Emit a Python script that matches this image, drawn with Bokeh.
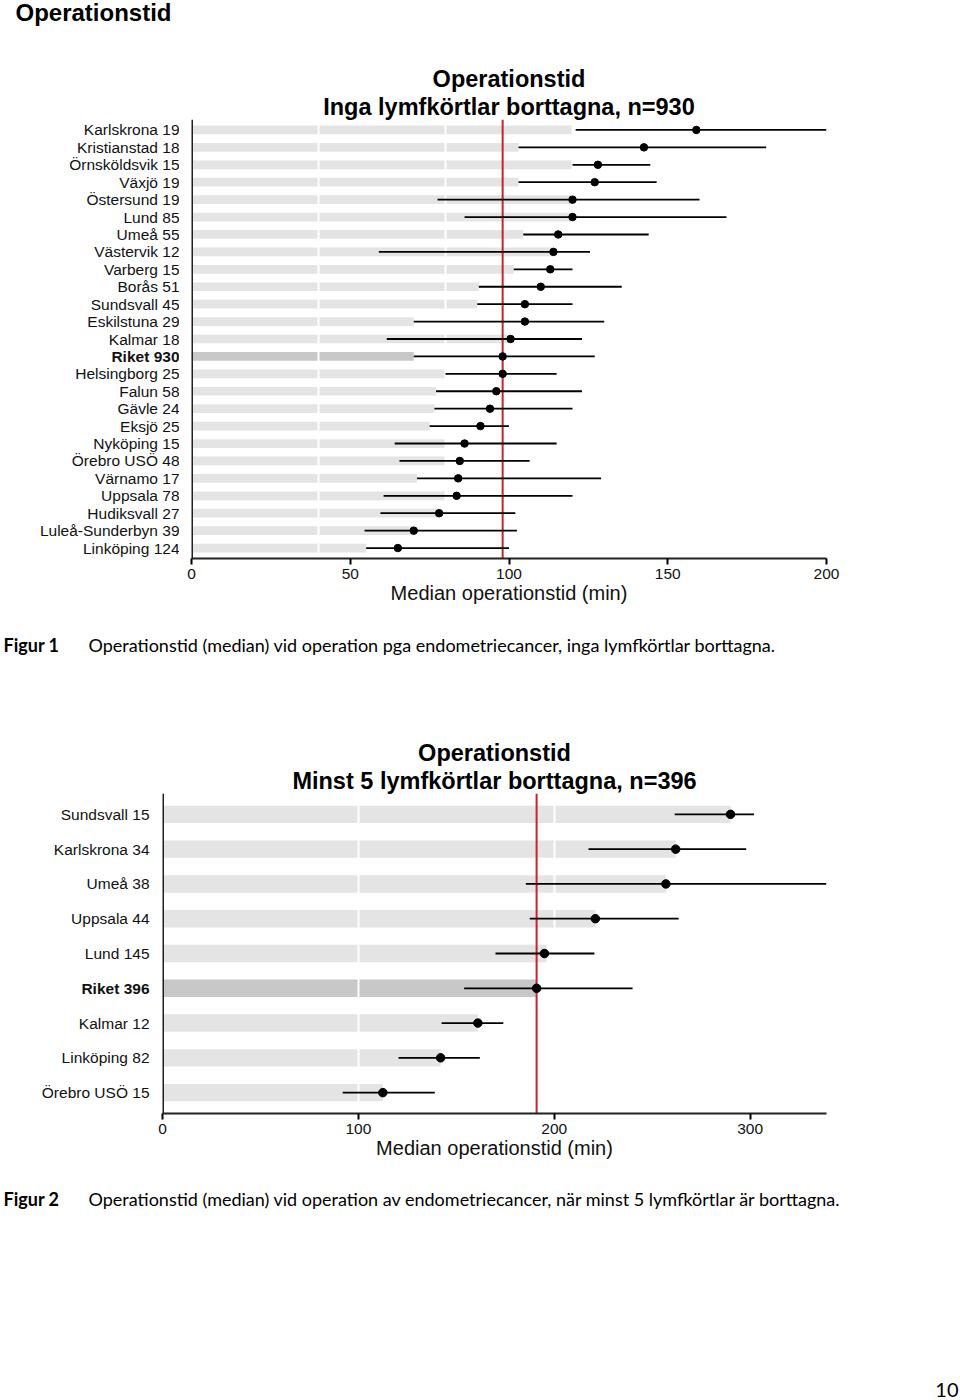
from bokeh.plotting import figure
from bokeh.models import (ColumnDataSource, FactorRange, Range1d, Span, Title,
                          FixedTicker)
from bokeh.layouts import row
from bokeh.embed import file_html
from bokeh.resources import INLINE
from bokeh.core.properties import value

# ---------------- data: Figur 1 (inga lymfkörtlar borttagna) ----------------
names1 = ["Karlskrona 19", "Kristianstad 18", "Örnsköldsvik 15", "Växjö 19",
          "Östersund 19", "Lund 85", "Umeå 55", "Västervik 12", "Varberg 15",
          "Borås 51", "Sundsvall 45", "Eskilstuna 29", "Kalmar 18", "Riket 930",
          "Helsingborg 25", "Falun 58", "Gävle 24", "Eksjö 25", "Nyköping 15",
          "Örebro USÖ 48", "Värnamo 17", "Uppsala 78", "Hudiksvall 27",
          "Luleå-Sunderbyn 39", "Linköping 124"]
median1 = [159, 142.5, 128, 127, 120, 120, 115.5, 114, 113, 110, 105, 105,
           100.5, 98, 98, 96, 94, 91, 86, 84.5, 84, 83.5, 78, 70, 65]
low1 = [121, 103, 120, 103, 77.5, 86, 104.5, 59, 101.5, 90.5, 90, 70, 61.5,
        70, 80, 77, 76.5, 75, 64, 65.5, 71, 60.5, 59.5, 54.5, 55]
high1 = [200, 181, 144.5, 146.5, 160, 168.5, 144, 125.5, 120, 135.5, 120, 130,
         123, 127, 115, 123, 120, 100, 115, 106.5, 129, 120, 102, 102.5, 100]
bar1 = [120, 103, 120, 103, 120, 120, 104.5, 114, 101.5, 90.5, 90, 70, 100.5,
        70, 80, 77, 76.5, 75, 80, 80, 71, 80, 78, 70, 55]
ticks1 = [0, 50, 100, 150, 200]
grid1 = [40, 80, 120]

# ---------------- data: Figur 2 (minst 5 lymfkörtlar borttagna) -------------
names2 = ["Sundsvall 15", "Karlskrona 34", "Umeå 38", "Uppsala 44", "Lund 145",
          "Riket 396", "Kalmar 12", "Linköping 82", "Örebro USÖ 15"]
median2 = [290, 262, 257, 221, 195, 191, 161, 142, 112.5]
low2 = [261.5, 217.5, 185.5, 187.5, 170, 154, 142.5, 120.5, 92]
high2 = [302, 298, 339, 263.5, 220.5, 240, 174, 162, 139]
bar2 = [290, 262, 257, 221, 196, 191, 161, 142, 112.5]
ticks2 = [0, 100, 200, 300]
grid2 = [100, 200]

FONT = "Liberation Sans"
CAP_FONT = "Lato"
W = 960
PAD = 12


def chart(names, median, low, high, bar, ticks, grid, xmax, t1, t2,
          height, left, top, bottom, standoff, dot):
    factors = list(reversed(names))
    riket = [n for n in names if n.startswith("Riket")][0]
    colors = ["#c8c8c8" if n == riket else "#e4e4e4" for n in names]
    src = ColumnDataSource(dict(name=names, median=median, low=low, high=high,
                                bar=bar, color=colors))
    yr = FactorRange(*factors, range_padding=0.1,
                     range_padding_units="absolute")
    p = figure(width=W - left + PAD, height=height, title=None, y_range=yr,
               x_range=Range1d(0, xmax), output_backend="svg",
               toolbar_location=None, min_border_left=PAD,
               min_border_right=W - 826, min_border_top=top,
               min_border_bottom=bottom)
    p.add_layout(Title(text=t2, align="center", text_font=FONT,
                       text_font_size="23.5px", text_font_style="bold",
                       text_color="black", standoff=0), "above")
    p.add_layout(Title(text=t1, align="center", text_font=FONT,
                       text_font_size="23.5px", text_font_style="bold",
                       text_color="black", standoff=0), "above")
    p.outline_line_color = None
    p.background_fill_color = "white"
    p.yaxis.visible = False

    bars = p.hbar(y="name", left=0, right="bar", height=0.5, source=src,
                  fill_color="color", line_color=None)
    bars.level = "image"
    # y axis line at zero
    p.add_layout(Span(location=0, dimension="height", line_color="#222222",
                      line_width=3))
    p.add_layout(Span(location=median[names.index(riket)], dimension="height",
                      line_color="#c3262e", line_width=2, level="underlay"))
    p.segment(x0="low", y0="name", x1="high", y1="name", source=src,
              line_color="black", line_width=1.8)
    p.scatter(x="median", y="name", source=src, size=dot, color="black")

    p.ygrid.grid_line_color = None
    p.xgrid.ticker = FixedTicker(ticks=grid)
    p.xgrid.grid_line_color = "white"
    p.xgrid.grid_line_width = 2

    p.xaxis.ticker = FixedTicker(ticks=ticks)
    p.xaxis.axis_label = "Median operationstid (min)"
    p.xaxis.axis_label_text_font = FONT
    p.xaxis.axis_label_text_font_size = "20px"
    p.xaxis.axis_label_text_font_style = "normal"
    p.xaxis.axis_label_text_color = "#111111"
    p.xaxis.axis_label_standoff = 0
    p.xaxis.major_label_text_font = FONT
    p.xaxis.major_label_text_font_size = "15.5px"
    p.xaxis.major_label_text_color = "#111111"
    p.xaxis.major_label_standoff = 4
    p.xaxis.major_tick_out = 6
    p.xaxis.major_tick_in = 0
    p.xaxis.minor_tick_out = 0
    p.xaxis.minor_tick_in = 0
    p.xaxis.axis_line_width = 2
    p.xaxis.major_tick_line_width = 2
    p.xaxis.axis_line_color = "#222222"

    # category labels (Riket in bold) in a panel left of the plot
    lw = left - PAD
    lab = figure(width=lw, height=height, title=None, y_range=yr,
                 x_range=Range1d(0, lw), x_axis_type=None,
                 y_axis_type=None, output_backend="svg",
                 toolbar_location=None, min_border_left=0, min_border_right=0,
                 min_border_top=top, min_border_bottom=bottom)
    lab.outline_line_color = None
    lab.grid.visible = False
    norm = ColumnDataSource(dict(name=[n for n in names if n != riket]))
    bold = ColumnDataSource(dict(name=[riket]))
    lab.text(x=left - standoff, y="name", text="name", source=norm,
             text_align="right", text_baseline="middle",
             text_font=value(FONT), text_font_size="15.5px",
             text_color="#111111")
    lab.text(x=left - standoff, y="name", text="name", source=bold,
             text_align="right", text_baseline="middle",
             text_font=value(FONT), text_font_size="15.5px",
             text_font_style="bold", text_color="#111111")
    return row(lab, p, spacing=0)


def text_fig(height):
    p = figure(width=W, height=height, title=None,
               x_range=Range1d(0, W), y_range=Range1d(height, 0),
               x_axis_type=None, y_axis_type=None, output_backend="svg",
               toolbar_location=None, min_border=0)
    p.outline_line_color = None
    p.grid.visible = False
    return p


header = text_fig(48)
header.text(x=[15], y=[12], text=["Operationstid"], text_font=value(FONT),
            text_font_size="24px", text_font_style="bold",
            text_baseline="middle", text_color="black")

p1 = chart(names1, median1, low1, high1, bar1, ticks1, grid1, 200,
           "Operationstid", "Inga lymfkörtlar borttagna, n=930",
           572, 191, 71, 62, 12, 7.5)

cap1 = text_fig(60)
cap1.text(x=[3], y=[24], text=["Figur 1"], text_font=value(CAP_FONT),
          text_font_size="18px", text_font_style="bold",
          text_baseline="middle", text_color="black")
cap1.text(x=[88], y=[24],
          text=["Operationstid (median) vid operation pga endometriecancer, "
                "inga lymfkörtlar borttagna."],
          text_font=value(CAP_FONT), text_font_size="18px",
          text_baseline="middle", text_color="black")

p2 = chart(names2, median2, low2, high2, bar2, ticks2, grid2, 339,
           "Operationstid", "Minst 5 lymfkörtlar borttagna, n=396",
           490, 162, 113, 57, 13, 8.5)

cap2 = text_fig(60)
cap2.text(x=[3], y=[28], text=["Figur 2"], text_font=value(CAP_FONT),
          text_font_size="18px", text_font_style="bold",
          text_baseline="middle", text_color="black")
cap2.text(x=[88], y=[28],
          text=["Operationstid (median) vid operation av endometriecancer, "
                "när minst 5 lymfkörtlar är borttagna."],
          text_font=value(CAP_FONT), text_font_size="18px",
          text_baseline="middle", text_color="black")

footer = text_fig(170)
footer.text(x=[958], y=[159], text=["10"], text_font=value(CAP_FONT),
            text_font_size="20px", text_align="right",
            text_baseline="middle", text_color="black")

roots = [header, p1, cap1, p2, cap2, footer]
open("out.html", "w").write(file_html(roots, INLINE))
